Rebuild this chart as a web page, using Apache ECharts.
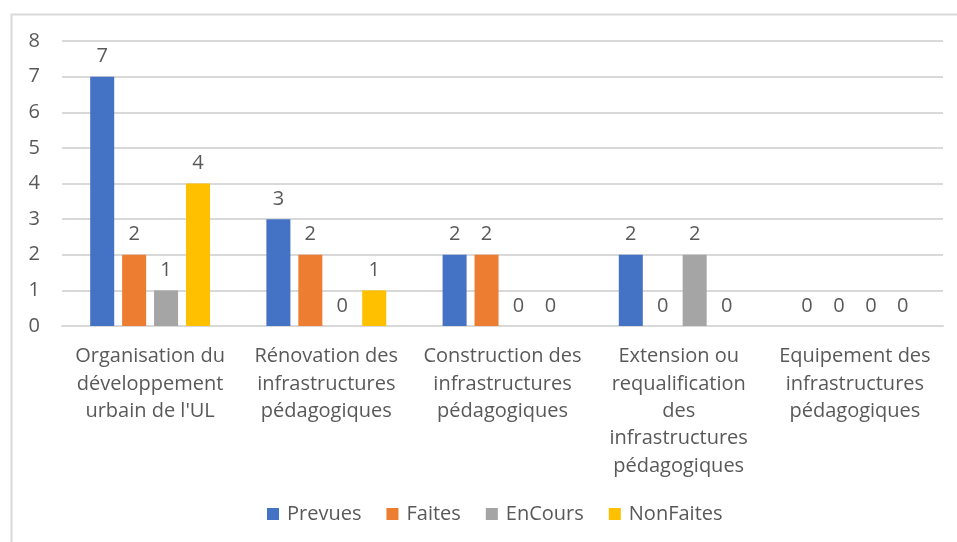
<!DOCTYPE html>
<html>
  <head>
	<meta charset="UTF-8">
	<title>Infrastructures</title>
	<script src="https://cdn.jsdelivr.net/npm/echarts@6/dist/echarts.min.js"></script>
	<style>
	  html, body { margin: 0; padding: 0; background: #fff; }
	  #chart { width: 957px; height: 542px; }
	</style>
  </head>
  <body>
	<div id="chart"></div>
	<script type="text/javascript">
	 var categories = [
	   "Organisation du\ndéveloppement\nurbain de l'UL",
	   "Rénovation des\ninfrastructures\npédagogiques",
	   "Construction des\ninfrastructures\npédagogiques",
	   "Extension ou\nrequalification\ndes\ninfrastructures\npédagogiques",
	   "Equipement des\ninfrastructures\npédagogiques"
	 ];
	 var prevues = [7, 3, 2, 2, 0];
	 var faites = [2, 2, 2, 0, 0];
	 var enCours = [1, 0, 0, 2, 0];
	 var nonFaites = [4, 1, 0, 0, 0];

	 var fontFamily = '"Open Sans", "Noto Sans", sans-serif';
	 var textColor = '#595959';
	 var fs = 20;

	 function makeSeries(name, data, color) {
	   return {
	     name: name,
	     type: 'bar',
	     data: data,
	     barGap: '33%',
	     barCategoryGap: '32%',
	     itemStyle: { color: color },
	     label: {
	       show: true,
	       position: 'top',
	       distance: 10,
	       color: textColor,
	       fontSize: fs,
	       fontFamily: fontFamily
	     }
	   };
	 }

	 var chart = echarts.init(document.getElementById('chart'));
	 chart.setOption({
	   animation: false,
	   graphic: [{
	     type: 'rect',
	     shape: { x: 11.5, y: 14.5, width: 960, height: 560 },
	     style: { fill: null, stroke: '#d9d9d9', lineWidth: 2 }
	   }],
	   grid: { left: 62, right: 14, top: 41, bottom: 216 },
	   legend: {
	     bottom: 13,
	     left: 262,
	     itemWidth: 12,
	     itemHeight: 12,
	     itemGap: 25,
	     icon: 'rect',
	     textStyle: { color: textColor, fontSize: fs, fontFamily: fontFamily, padding: [0, 0, 0, 3] }
	   },
	   xAxis: {
	     type: 'category',
	     data: categories,
	     axisLine: { lineStyle: { color: '#d9d9d9', width: 2 } },
	     axisTick: { show: false },
	     axisLabel: {
	       interval: 0,
	       margin: 17,
	       color: textColor,
	       fontSize: fs,
	       lineHeight: 27.3,
	       fontFamily: fontFamily
	     }
	   },
	   yAxis: {
	     type: 'value',
	     min: 0,
	     max: 8,
	     interval: 1,
	     axisLine: { show: false },
	     axisTick: { show: false },
	     splitLine: { lineStyle: { color: '#d9d9d9', width: 2 } },
	     axisLabel: { color: textColor, fontSize: fs, margin: 22, fontFamily: fontFamily }
	   },
	   series: [
	     makeSeries('Prevues', prevues, '#4472C4'),
	     makeSeries('Faites', faites, '#ED7D31'),
	     makeSeries('EnCours', enCours, '#A5A5A5'),
	     makeSeries('NonFaites', nonFaites, '#FFC000')
	   ]
	 });
	</script>
  </body>
</html>
